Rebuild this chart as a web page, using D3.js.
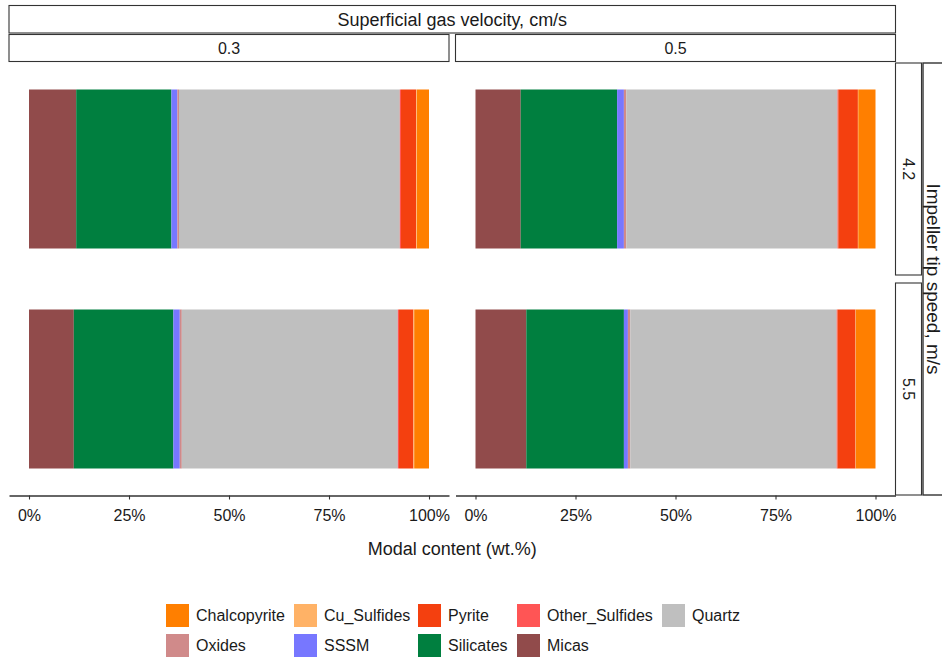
<!DOCTYPE html>
<html>
<head>
<meta charset="utf-8">
<script src="https://cdn.jsdelivr.net/npm/d3@7"></script>
<style>
  html, body { margin: 0; padding: 0; background: #fff; }
  svg { display: block; font-family: "Liberation Sans", Arial, sans-serif; }
</style>
</head>
<body>
<svg id="chart" width="942" height="659"></svg>
<script>
// Mineral classes, in legend order (first level is stacked on the right)
const minerals = ["Chalcopyrite", "Cu_Sulfides", "Pyrite", "Other_Sulfides", "Quartz",
                  "Oxides", "SSSM", "Silicates", "Micas"];
const mineralColors = ["#FF7F00", "#FFB266", "#F4400F", "#FF5555", "#BFBFBF",
                       "#D08A8A", "#7777FF", "#007F3F", "#914B4B"];

// Facet levels
const gasVelocities = ["0.3", "0.5"];   // columns
const tipSpeeds = ["4.2", "5.5"];       // rows

// Modal content (wt.%) per condition, same order as `minerals`
const gas03_tip42 = [3.0, 0.2, 3.8, 0.3, 55.2, 0.4, 1.5, 23.8, 11.8];
const gas05_tip42 = [4.3, 0.1, 4.9, 0.2, 52.8, 0.6, 1.7, 24.1, 11.3];
const gas03_tip55 = [3.7, 0.2, 3.6, 0.3, 54.0, 0.5, 1.6, 24.9, 11.2];
const gas05_tip55 = [4.9, 0.1, 4.5, 0.2, 51.6, 0.6, 1.0, 24.4, 12.7];

const xTicks = [0, 0.25, 0.5, 0.75, 1];
const xTitle = "Modal content (wt.%)";
const colStripTitle = "Superficial gas velocity, cm/s";
const rowStripTitle = "Impeller tip speed, m/s";

const panelValues = {
  "0.3|4.2": gas03_tip42, "0.5|4.2": gas05_tip42,
  "0.3|5.5": gas03_tip55, "0.5|5.5": gas05_tip55
};

const svg = d3.select("#chart");
const color = d3.scaleOrdinal().domain(minerals).range(mineralColors);

// Panel geometry
const colX = [9, 455.5];
const panelW = 440;
const rowY = [63, 283];
const panelH = 212;
const stroke = "#333";
const txt = "#1a1a1a";

// Column strips
svg.append("rect").attr("x", colX[0]).attr("y", 5.5)
  .attr("width", colX[1] + panelW - colX[0]).attr("height", 27.5)
  .attr("fill", "#fff").attr("stroke", stroke).attr("stroke-width", 1.1);
svg.append("text").attr("x", (colX[0] + colX[1] + panelW) / 2).attr("y", 19.5)
  .attr("text-anchor", "middle").attr("dominant-baseline", "central")
  .attr("font-size", 18).attr("fill", txt).text(colStripTitle);

gasVelocities.forEach((g, i) => {
  svg.append("rect").attr("x", colX[i]).attr("y", 34.5)
    .attr("width", panelW).attr("height", 27)
    .attr("fill", "#fff").attr("stroke", stroke).attr("stroke-width", 1.1);
  svg.append("text").attr("x", colX[i] + panelW / 2).attr("y", 48.5)
    .attr("text-anchor", "middle").attr("dominant-baseline", "central")
    .attr("font-size", 16).attr("fill", txt).text(g);
});

// Row strips
tipSpeeds.forEach((t, j) => {
  svg.append("rect").attr("x", 895.5).attr("y", rowY[j])
    .attr("width", 26).attr("height", panelH)
    .attr("fill", "#fff").attr("stroke", stroke).attr("stroke-width", 1.1);
  svg.append("text")
    .attr("transform", `translate(${908.5},${rowY[j] + panelH / 2}) rotate(90)`)
    .attr("text-anchor", "middle").attr("dominant-baseline", "central")
    .attr("font-size", 16).attr("fill", txt).text(t);
});
svg.append("rect").attr("x", 923).attr("y", rowY[0])
  .attr("width", 40).attr("height", rowY[1] + panelH - rowY[0])
  .attr("fill", "#fff").attr("stroke", stroke).attr("stroke-width", 1.4);
svg.append("text")
  .attr("transform", `translate(${933},${(rowY[0] + rowY[1] + panelH) / 2}) rotate(90)`)
  .attr("text-anchor", "middle").attr("dominant-baseline", "central")
  .attr("font-size", 19).attr("fill", txt).text(rowStripTitle);

// Panels
tipSpeeds.forEach((t, j) => {
  gasVelocities.forEach((g, i) => {
    const vals = panelValues[g + "|" + t];
    const total = d3.sum(vals);
    const x = d3.scaleLinear().domain([-0.05, 1.05]).range([colX[i], colX[i] + panelW]);
    const y = d3.scaleBand().domain(["sample"]).range([rowY[j], rowY[j] + panelH])
      .paddingInner(0.1).paddingOuter(0.15);

    // stack from the last level (left) to the first (right)
    const rows = minerals.map((m, k) => ({ m, v: vals[k] / total })).reverse();
    let acc = 0;
    rows.forEach(r => { r.x0 = acc; acc += r.v; r.x1 = acc; });

    const g0 = svg.append("g");
    g0.selectAll("rect").data(rows).join("rect")
      .attr("x", d => x(d.x0))
      .attr("width", d => Math.max(0, x(d.x1) - x(d.x0)))
      .attr("y", y("sample"))
      .attr("height", y.bandwidth())
      .attr("fill", d => color(d.m));

    // bottom axis on the lower row
    if (j === tipSpeeds.length - 1) {
      const axisG = svg.append("g")
        .attr("transform", `translate(0,${rowY[j] + panelH + 0.5})`)
        .call(d3.axisBottom(x).tickValues(xTicks).tickFormat(d3.format(".0%"))
          .tickSizeInner(4).tickSizeOuter(0).tickPadding(10));
      axisG.select(".domain").attr("stroke", stroke).attr("stroke-width", 1.3);
      axisG.selectAll(".tick line").attr("stroke", stroke).attr("stroke-width", 1.1);
      axisG.selectAll(".tick text").attr("font-size", 16)
        .attr("font-family", "'Liberation Sans', Arial, sans-serif").attr("fill", txt);
    }
  });
});

// x-axis title
svg.append("text").attr("x", (colX[0] + colX[1] + panelW) / 2).attr("y", 549)
  .attr("text-anchor", "middle").attr("dominant-baseline", "central")
  .attr("font-size", 18).attr("fill", txt).text(xTitle);

// Legend: two rows, five columns
const legendCols = [166, 294, 418, 517, 662];
const legendRows = [604, 634];
const keySize = 23;
minerals.forEach((m, k) => {
  const c = k % 5, r = Math.floor(k / 5);
  const lx = legendCols[c], ly = legendRows[r];
  svg.append("rect").attr("x", lx).attr("y", ly).attr("width", keySize).attr("height", keySize)
    .attr("fill", color(m));
  svg.append("text").attr("x", lx + 30).attr("y", ly + keySize / 2)
    .attr("dominant-baseline", "central").attr("font-size", 16).attr("fill", txt).text(m);
});
</script>
</body>
</html>
